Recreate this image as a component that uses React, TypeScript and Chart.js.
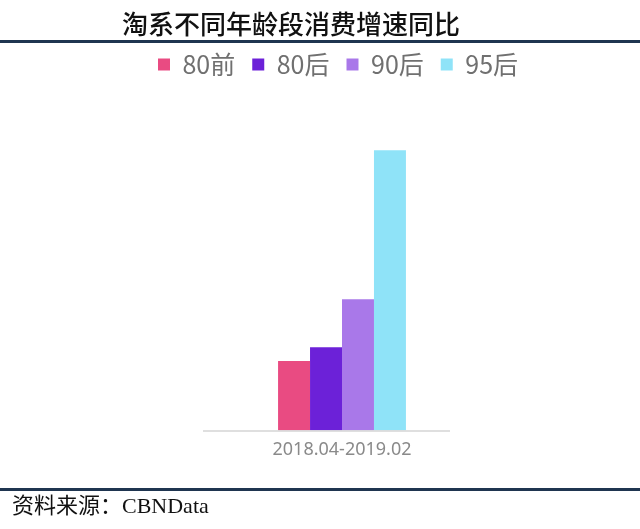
import { useEffect, useRef } from 'react'
import { Chart, registerables, type Plugin } from 'chart.js'

Chart.register(...registerables)

const CATEGORIES = ['2018.04-2019.02']
const SERIES = ['80前', '80后', '90后', '95后']
const VALUES = [24.8, 29.7, 46.8, 100]
const COLORS = ['#e94b82', '#6c21d8', '#a978e9', '#8fe3f8']

// light baseline under the bars, a bit shorter on the right like the original
const baseline: Plugin<'bar'> = {
  id: 'baseline',
  afterDatasetsDraw(chart) {
    const { ctx, chartArea } = chart
    ctx.save()
    ctx.strokeStyle = '#d4d4d4'
    ctx.lineWidth = 1.5
    ctx.beginPath()
    ctx.moveTo(chartArea.left, chartArea.bottom + 0.5)
    ctx.lineTo(chartArea.right - 31, chartArea.bottom + 0.5)
    ctx.stroke()
    ctx.restore()
  },
}

export default function App() {
  const canvasRef = useRef<HTMLCanvasElement>(null)
  const chartRef = useRef<Chart<'bar'> | null>(null)

  useEffect(() => {
    document.body.style.margin = '0'
    if (!canvasRef.current) return
    chartRef.current?.destroy()
    chartRef.current = new Chart(canvasRef.current, {
      type: 'bar',
      data: {
        labels: CATEGORIES,
        datasets: SERIES.map((name, i) => ({
          label: name,
          data: [VALUES[i]],
          backgroundColor: COLORS[i],
          borderWidth: 0,
          categoryPercentage: 0.46,
          barPercentage: 1,
        })),
      },
      options: {
        animation: false,
        responsive: false,
        maintainAspectRatio: false,
        layout: { padding: { top: 35, left: 36, right: 0, bottom: 59 } },
        plugins: {
          tooltip: { enabled: false },
          legend: {
            display: true,
            position: 'top',
            labels: {
              boxWidth: 12,
              boxHeight: 12,
              padding: 17,
              color: '#707070',
              font: { family: '"Noto Sans CJK SC", "Noto Sans", sans-serif', size: 25 },
            },
          },
        },
        scales: {
          x: {
            grid: { display: false, drawTicks: false },
            border: { display: false },
            ticks: {
              color: '#8a8a8a',
              padding: 9,
              font: { family: '"Noto Sans", sans-serif', size: 18 },
            },
          },
          y: {
            min: 0,
            max: 122.6,
            position: 'left',
            grid: { display: false, drawTicks: false },
            border: { display: false },
            ticks: { display: false },
            afterFit: (s) => {
              s.width = 167
            },
          },
          yR: {
            min: 0,
            max: 122.6,
            position: 'right',
            grid: { display: false, drawTicks: false },
            border: { display: false },
            ticks: { display: false },
            afterFit: (s) => {
              s.width = 159
            },
          },
        },
      },
      plugins: [baseline],
    })
    return () => {
      chartRef.current?.destroy()
      chartRef.current = null
    }
  }, [])

  return (
    <div style={{ position: 'relative', width: 640, height: 529, background: '#fff', overflow: 'hidden' }}>
      <canvas ref={canvasRef} width={640} height={529} style={{ position: 'absolute', left: 0, top: 0 }} />
      <div
        style={{
          position: 'absolute',
          left: 122,
          top: 4,
          fontFamily: '"Noto Sans CJK SC", sans-serif',
          fontWeight: 500,
          fontSize: 26,
          color: '#111',
          whiteSpace: 'nowrap',
        }}
      >
        淘系不同年龄段消费增速同比
      </div>
      <div style={{ position: 'absolute', left: 0, top: 40, width: 640, height: 3, background: '#1f3550' }} />
      <div style={{ position: 'absolute', left: 0, top: 488, width: 640, height: 3, background: '#1f3550' }} />
      <div
        style={{
          position: 'absolute',
          left: 12,
          top: 487,
          fontFamily: '"Liberation Serif", "Noto Sans CJK SC", serif',
          fontSize: 22,
          color: '#111',
          whiteSpace: 'nowrap',
        }}
      >
        资料来源：CBNData
      </div>
    </div>
  )
}
